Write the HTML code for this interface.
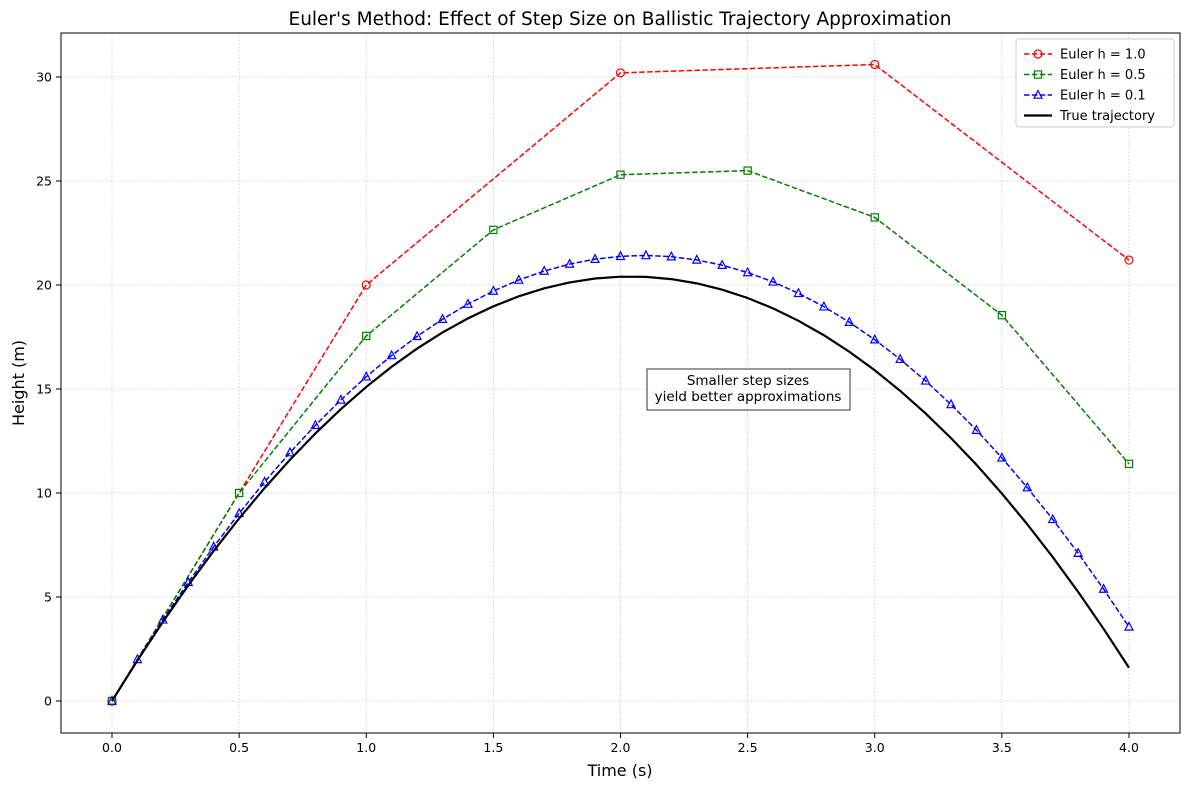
<!DOCTYPE html>
<html><head><meta charset="utf-8"><style>
body{margin:0;background:#fff;font-family:"Liberation Sans","DejaVu Sans",sans-serif;}
svg text{font-family:"DejaVu Sans","Liberation Sans",sans-serif;}
</style></head><body>
<svg id="chart" width="1189" height="790" xmlns="http://www.w3.org/2000/svg">
<rect width="1189" height="790" fill="#fff"/>
<g id="grid"></g>
<g id="series"></g>
<rect x="61" y="33" width="1119" height="700" fill="none" stroke="#000" stroke-width="1"/>
<g id="ticks"></g>
<text x="620" y="25" text-anchor="middle" font-size="18.5">Euler's Method: Effect of Step Size on Ballistic Trajectory Approximation</text>
<text x="620" y="776" text-anchor="middle" font-size="16">Time (s)</text>
<text x="24" y="383" text-anchor="middle" font-size="16" transform="rotate(-90 24 383)">Height (m)</text>
<g>
<rect x="647" y="369" width="203" height="41" fill="#fff" fill-opacity="0.8" stroke="#333"/>
<text x="748" y="385" text-anchor="middle" font-size="13.5">Smaller step sizes</text>
<text x="748" y="401" text-anchor="middle" font-size="13.5">yield better approximations</text>
</g>
<g id="legend">
<rect x="1016" y="39" width="158" height="88" rx="3" fill="#fff" fill-opacity="0.8" stroke="#ccc"/>
</g>
</svg>
<script>
const tH1=[0,1,2,3,4];
const yH1=[0,20,30.2,30.6,21.2];
const tH05=[0,0.5,1,1.5,2,2.5,3,3.5,4];
const yH05=[0,10,17.55,22.65,25.3,25.5,23.25,18.55,11.4];
const tH01=[0,0.1,0.2,0.3,0.4,0.5,0.6,0.7,0.8,0.9,1,1.1,1.2,1.3,1.4,1.5,1.6,1.7,1.8,1.9,2,2.1,2.2,2.3,2.4,2.5,2.6,2.7,2.8,2.9,3,3.1,3.2,3.3,3.4,3.5,3.6,3.7,3.8,3.9,4];
const yH01=[0,2,3.902,5.706,7.412,9.02,10.53,11.942,13.256,14.472,15.59,16.61,17.532,18.356,19.082,19.71,20.24,20.672,21.006,21.242,21.38,21.42,21.362,21.206,20.952,20.6,20.15,19.602,18.956,18.212,17.37,16.43,15.392,14.256,13.022,11.69,10.26,8.732,7.106,5.382,3.56];
const tTrue=tH01;
const yTrue=[0,1.951,3.804,5.559,7.216,8.775,10.236,11.599,12.864,14.031,15.1,16.071,16.944,17.719,18.396,18.975,19.456,19.839,20.124,20.311,20.4,20.391,20.284,20.079,19.776,19.375,18.876,18.279,17.584,16.791,15.9,14.911,13.824,12.639,11.356,9.975,8.496,6.919,5.244,3.471,1.6];
const xTicks=[0,0.5,1,1.5,2,2.5,3,3.5,4];
const xTickLabels=["0.0","0.5","1.0","1.5","2.0","2.5","3.0","3.5","4.0"];
const yTicks=[0,5,10,15,20,25,30];
const yTickLabels=["0","5","10","15","20","25","30"];

const NS="http://www.w3.org/2000/svg";
const X=t=>112+t*254.25;
const Y=v=>701-v*20.8;
function mk(tag,attrs,parent){const e=document.createElementNS(NS,tag);for(const k in attrs)e.setAttribute(k,attrs[k]);parent.appendChild(e);return e;}
const grid=document.getElementById('grid'),ticks=document.getElementById('ticks'),ser=document.getElementById('series'),leg=document.getElementById('legend');
xTicks.forEach((t,i)=>{
 const g=mk('line',{x1:X(t),x2:X(t),y1:33,y2:733,stroke:'#b0b0b0','stroke-width':0.8,'stroke-dasharray':'1.5,2','stroke-opacity':0.7},grid);
 
 
 mk('line',{x1:X(t),x2:X(t),y1:733,y2:738,stroke:'#000'},ticks);
 const tx=mk('text',{x:X(t),y:752,'text-anchor':'middle','font-size':12.5},ticks);tx.textContent=xTickLabels[i];
 
 
});
yTicks.forEach((v,i)=>{
 const g=mk('line',{x1:61,x2:1180,y1:Y(v),y2:Y(v),stroke:'#b0b0b0','stroke-width':0.8,'stroke-dasharray':'1.5,2','stroke-opacity':0.7},grid);
 
 
 mk('line',{x1:56,x2:61,y1:Y(v),y2:Y(v),stroke:'#000'},ticks);
 const tx=mk('text',{x:52,y:Y(v)+4.5,'text-anchor':'end','font-size':12.5},ticks);tx.textContent=yTickLabels[i];
 
 
});
function marker(shape,cx,cy,col,p){
 if(shape==='o')return mk('circle',{cx,cy,r:4,fill:'none',stroke:col,'stroke-width':1.2},p);
 if(shape==='s')return mk('rect',{x:cx-3.6,y:cy-3.6,width:7.2,height:7.2,fill:'none',stroke:col,'stroke-width':1.2},p);
 if(shape==='^')return mk('polygon',{points:`${cx},${cy-4.5} ${cx-4},${cy+3.2} ${cx+4},${cy+3.2}`,fill:'none',stroke:col,'stroke-width':1.2},p);
}
function series(ts,ys,col,shape,dash,w,name){
 const g=mk('g',{},ser);
 
 
 const pts=ts.map((t,i)=>X(t)+','+Y(ys[i])).join(' ');
 mk('polyline',{points:pts,fill:'none',stroke:col,'stroke-width':w,'stroke-dasharray':dash||'none'},g);
 if(shape)ts.forEach((t,i)=>{const m=marker(shape,X(t),Y(ys[i]),col,g);
  
  });
}
series(tH1,yH1,'#ff0000','o','5.5,2.4',1.5,'series-h1');
series(tH05,yH05,'#008000','s','5.5,2.4',1.5,'series-h05');
series(tH01,yH01,'#0000ff','^','5.5,2.4',1.5,'series-h01');
series(tTrue,yTrue,'#000','',null,2.2,'series-true');
const items=[['Euler h = 1.0','#ff0000','o',true],['Euler h = 0.5','#008000','s',true],['Euler h = 0.1','#0000ff','^',true],['True trajectory','#000','',false]];
items.forEach((it,i)=>{
 const y=54+i*20.5;
 const g=mk('g',{},leg);
 
 
 mk('line',{x1:1024,x2:1052,y1:y,y2:y,stroke:it[1],'stroke-width':it[3]?1.5:2.2,'stroke-dasharray':it[3]?'5.5,2.4':'none'},g);
 if(it[2])marker(it[2],1038,y,it[1],g);
 const t=mk('text',{x:1060,y:y+4.5,'font-size':13},g);t.textContent=it[0];
});
</script>
</body></html>
